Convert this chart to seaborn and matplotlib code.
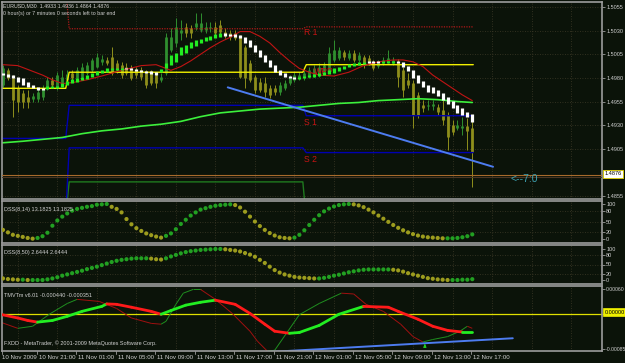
import numpy as np
import pandas as pd
import matplotlib
matplotlib.use("Agg")
import matplotlib.pyplot as plt
import matplotlib.transforms as mtrans
from matplotlib.collections import LineCollection
import seaborn as sns

# ---------------- data ----------------
open_ = [1.4972,1.4988,1.4980,1.4969,1.4964,1.4960,1.4958,1.4958,1.4960,1.4969,
         1.4978,1.4970,1.4975,1.4978,1.4985,1.4980,1.4981,1.4985,1.4988,1.4992,
         1.4997,1.4999,1.5002,1.4996,1.4994,1.4992,1.4990,1.4988,1.4988,1.4985,
         1.4985,1.4983,1.4978,1.4985,1.5010,1.5017,1.5027,1.5034,1.5033,1.5034,
         1.5031,1.5031,1.5033,1.5034,1.5036,1.5029,1.5027,1.5027,1.5023,1.5013,
         1.4996,1.4981,1.4976,1.4975,1.4969,1.4969,1.4965,1.4969,1.4975,1.4978,
         1.4980,1.4981,1.4981,1.4983,1.4983,1.4986,1.4986,1.4999,1.5001,1.5007,
         1.5001,1.5006,1.4999,1.5002,1.5001,1.4997,1.4993,1.4996,1.4997,1.4996,
         1.4997,1.4988,1.4978,1.4975,1.4962,1.4951,1.4950,1.4950,1.4949,1.4946,
         1.4941,1.4930,1.4927,1.4927,1.4929,1.4927]
high = [1.4994,1.4990,1.4983,1.4972,1.4967,1.4967,1.4964,1.4969,1.4972,1.4981,
        1.4981,1.4986,1.4988,1.4988,1.4988,1.4992,1.4996,1.4997,1.5001,1.5006,
        1.5004,1.5002,1.5013,1.4999,1.4997,1.4996,1.4994,1.4992,1.4992,1.4988,
        1.4988,1.4986,1.4985,1.5027,1.5033,1.5043,1.5041,1.5038,1.5036,1.5049,
        1.5049,1.5039,1.5039,1.5039,1.5041,1.5033,1.5031,1.5031,1.5025,1.5015,
        1.4999,1.4983,1.4980,1.4981,1.4972,1.4972,1.4976,1.4978,1.4983,1.4986,
        1.4986,1.4988,1.4992,1.4994,1.4996,1.4997,1.5013,1.5020,1.5013,1.5010,
        1.5010,1.5010,1.5007,1.5004,1.5004,1.4999,1.4999,1.5002,1.5010,1.5002,
        1.5000,1.4992,1.4985,1.4978,1.4965,1.4957,1.4957,1.4957,1.4952,1.4957,
        1.4944,1.4935,1.4935,1.4939,1.4938,1.4938]
low = [1.4970,1.4978,1.4939,1.4944,1.4948,1.4948,1.4955,1.4955,1.4957,1.4967,
       1.4969,1.4967,1.4972,1.4975,1.4976,1.4978,1.4980,1.4983,1.4986,1.4990,
       1.4994,1.4994,1.4983,1.4985,1.4980,1.4983,1.4978,1.4980,1.4978,1.4969,
       1.4972,1.4969,1.4976,1.4983,1.5007,1.5013,1.5020,1.5023,1.5022,1.5031,
       1.5029,1.5027,1.5029,1.5025,1.5025,1.5022,1.5020,1.5020,1.4980,1.4969,
       1.4976,1.4964,1.4965,1.4960,1.4959,1.4962,1.4962,1.4967,1.4972,1.4976,
       1.4978,1.4978,1.4980,1.4981,1.4981,1.4983,1.4985,1.4997,1.4999,1.4999,
       1.4999,1.4997,1.4997,1.4990,1.4994,1.4988,1.4990,1.4994,1.4996,1.4994,
       1.4970,1.4960,1.4969,1.4927,1.4938,1.4944,1.4946,1.4946,1.4941,1.4930,
       1.4904,1.4920,1.4925,1.4920,1.4904,1.4865]
close = [1.4990,1.4980,1.4957,1.4955,1.4955,1.4955,1.4961,1.4965,1.4969,1.4978,
         1.4972,1.4983,1.4981,1.4984,1.4980,1.4988,1.4992,1.4994,1.4999,1.5002,
         1.5000,1.4996,1.4985,1.4988,1.4983,1.4985,1.4980,1.4983,1.4981,1.4972,
         1.4975,1.4975,1.4981,1.5023,1.5023,1.5034,1.5031,1.5027,1.5027,1.5038,
         1.5038,1.5034,1.5034,1.5027,1.5029,1.5025,1.5023,1.5022,1.4981,1.4980,
         1.4978,1.4967,1.4967,1.4965,1.4962,1.4965,1.4972,1.4975,1.4981,1.4983,
         1.4983,1.4985,1.4988,1.4990,1.4992,1.4994,1.5006,1.5010,1.5010,1.5002,
         1.5006,1.4999,1.5004,1.4994,1.4996,1.4990,1.4996,1.4999,1.5001,1.4999,
         1.4981,1.4967,1.4972,1.4941,1.4941,1.4948,1.4951,1.4952,1.4944,1.4935,
         1.4917,1.4923,1.4930,1.4929,1.4924,1.4902]
ha_open = [1.4985,1.4984,1.4983,1.4981,1.4980,1.4976,1.4972,1.4970,1.4969,1.4968,
           1.4969,1.4969,1.4970,1.4972,1.4975,1.4976,1.4978,1.4979,1.4981,1.4983,
           1.4985,1.4986,1.4988,1.4988,1.4988,1.4990,1.4990,1.4989,1.4988,1.4987,
           1.4987,1.4986,1.4986,1.4990,1.4994,1.4997,1.5004,1.5006,1.5012,1.5014,
           1.5017,1.5019,1.5020,1.5022,1.5023,1.5027,1.5026,1.5026,1.5025,1.5023,
           1.5020,1.5015,1.5010,1.5004,1.4999,1.4994,1.4988,1.4985,1.4982,1.4981,
           1.4979,1.4980,1.4981,1.4981,1.4982,1.4983,1.4984,1.4985,1.4987,1.4989,
           1.4992,1.4993,1.4994,1.4995,1.4998,1.4998,1.4998,1.4996,1.4996,1.4996,
           1.4998,1.4997,1.4993,1.4988,1.4983,1.4977,1.4972,1.4970,1.4967,1.4964,
           1.4960,1.4956,1.4951,1.4948,1.4944,1.4942]
ha_close = [1.4983,1.4981,1.4980,1.4976,1.4972,1.4970,1.4969,1.4967,1.4967,1.4971,
            1.4971,1.4971,1.4975,1.4977,1.4979,1.4980,1.4981,1.4983,1.4985,1.4987,
            1.4988,1.4990,1.4990,1.4990,1.4990,1.4989,1.4988,1.4987,1.4986,1.4985,
            1.4984,1.4983,1.4989,1.4996,1.5004,1.5006,1.5013,1.5015,1.5018,1.5020,
            1.5021,1.5023,1.5024,1.5026,1.5027,1.5024,1.5024,1.5023,1.5022,1.5017,
            1.5013,1.5007,1.5002,1.4997,1.4992,1.4986,1.4983,1.4981,1.4980,1.4979,
            1.4981,1.4982,1.4983,1.4984,1.4985,1.4986,1.4988,1.4990,1.4992,1.4993,
            1.4995,1.4996,1.4997,1.4997,1.4996,1.4996,1.4996,1.4998,1.4998,1.4998,
            1.4996,1.4992,1.4987,1.4980,1.4975,1.4970,1.4965,1.4964,1.4961,1.4957,
            1.4952,1.4948,1.4943,1.4941,1.4939,1.4933]

# envelope (red) and long MA (lime), sampled at bar indices
red_bars = [0, 3, 5, 8, 10, 12, 14, 17, 20, 24, 28, 31, 34, 36, 38, 40, 42, 44, 46, 48, 50,
            52, 54, 56, 58, 60, 62, 64, 67, 70, 73, 76, 79, 81, 83, 85, 87, 89, 91, 93, 95]
red_vals = [1.4994, 1.4993, 1.4989, 1.4983, 1.4978, 1.4974, 1.4975, 1.4978, 1.4982, 1.4988,
            1.4993, 1.4994, 1.4988, 1.4992, 1.4998, 1.5005, 1.5012, 1.5018, 1.5023, 1.5029,
            1.5029, 1.5024, 1.5017, 1.5007, 1.4998, 1.4990, 1.4986, 1.4983, 1.4982, 1.4986,
            1.4993, 1.4997, 1.4999, 1.4999, 1.4997, 1.4992, 1.4983, 1.4976, 1.4969, 1.4962,
            1.4956]
ma_bars = [-1, 4, 8, 12, 16, 20, 24, 28, 32, 36, 40, 44, 48, 52, 56, 60, 64, 68, 72, 76,
           80, 84, 88, 92, 95]
ma_vals = [1.4911, 1.4913, 1.4915, 1.4917, 1.4921, 1.4924, 1.4926, 1.4929, 1.4931, 1.4934,
           1.4939, 1.4943, 1.4945, 1.4947, 1.4948, 1.4949, 1.4951, 1.4953, 1.4954, 1.4956,
           1.4957, 1.4958, 1.4957, 1.4955, 1.4954]

# daily pivot levels (step lines: before 11 Nov, 11 Nov, 12 Nov)
lvl_bars = [-1, 12.7, 13.4, 60.7, 61.4, 95.2]
pivot = [1.4969, 1.4969, 1.4986, 1.4986, 1.4994, 1.4994]
r1 = [1.5075, 1.5075, 1.5032, 1.5032, 1.5034, 1.5034]
s1 = [1.4916, 1.4916, 1.4951, 1.4951, 1.4940, 1.4940]
s2 = [1.4835, 1.4835, 1.4906, 1.4906, 1.4901, 1.4901]
s3 = [1.4835, 1.4835, 1.4870, 1.4870, 1.4830, 1.4830]

trend_bars = [45.5, 99.2]
trend_vals = [1.4970, 1.4886]
bid = 1.4876

price_ticks = [1.5055, 1.5030, 1.5005, 1.4980, 1.4955, 1.4930, 1.4905, 1.4855]

dss1 = [26, 19, 12, 9, 6, 3, 1, 3, 8, 18, 38, 53, 64, 73, 81, 86, 89, 92, 94, 98,
        99, 100, 92, 86, 76, 57, 42, 31, 23, 16, 11, 7, 4, 9, 16, 28, 43, 55, 67, 76,
        84, 88, 92, 95, 97, 98, 99, 97, 90, 78, 64, 50, 37, 26, 17, 10, 5, 3, 2, 4,
        12, 25, 40, 55, 68, 79, 87, 93, 97, 99, 100, 99, 96, 91, 84, 76, 67, 58, 49, 40,
        32, 25, 19, 14, 10, 7, 5, 4, 3, 2, 2, 2, 3, 5, 8, 13.18]
dss2 = [5, 3, 2, 1, 1, 0, 0, 0, 0, 2, 5, 9, 14, 18, 22, 26, 30, 35, 39, 43,
        48, 53, 58, 62, 65, 67, 69, 70, 70, 70, 69, 67, 66, 70, 76, 81, 86, 90, 93, 95,
        97, 98, 99, 100, 100, 99, 97, 95, 92, 87, 82, 75, 65, 55, 43, 32, 24, 18, 14, 10,
        8, 7, 6, 5, 5, 7, 10, 14, 17, 21, 25, 28, 31, 33, 34, 34, 34, 34, 34, 33,
        31, 27, 22, 18, 14, 10, 6, 4, 2, 1, 0, 0, 0, 1, 1, 2.64]

tmv_bars = [-1, 3, 5, 7, 10, 13, 16, 20, 21, 23, 26, 30, 32, 34, 37, 40, 43, 47, 50, 53,
            55, 58, 60, 64, 68, 73, 78, 80, 84, 87, 90, 93, 95]
tmv_vals = [0.00000, -0.00010, -0.00016, -0.00020, -0.00016, -0.00006, 0.00006, 0.00018,
            0.00024, 0.00023, 0.00016, 0.00006, -0.00001, 0.00008, 0.00021, 0.00028,
            0.00033, 0.00023, 0.00001, -0.00025, -0.00042, -0.00047, -0.00045, -0.00028,
            -0.00001, 0.00018, 0.00016, 0.00006, -0.00013, -0.00030, -0.00040, -0.00044,
            -0.00044]
sig_bars = [-1, 3, 6, 9.5, 13, 15, 19.5, 23, 26, 30, 32, 33, 35, 36.5, 38.5, 40, 43, 46.5,
            50, 51.5, 53.5, 55, 60, 64, 68.5, 71, 73.5, 77, 80.5, 83, 85, 87, 90, 92.5, 94, 95]
sig_vals = [-0.00018, -0.00035, -0.00030, 0.00000, 0.00025, 0.00035, 0.00030, 0.00013,
            -0.00010, -0.00023, -0.00025, -0.00018, 0.00023, 0.00050, 0.00059, 0.00059,
            0.00035, 0.00000, -0.00042, -0.00066, -0.00090, -0.00088, -0.00002, 0.00025,
            0.00050, 0.00048, 0.00023, 0.00006, -0.00025, -0.00055, -0.00068, -0.00062,
            -0.00055, -0.00042, -0.00030, -0.00035]
tmv_trend_bars = [54.3, 103.2]
tmv_trend_vals = [-0.00092, -0.00059]

time_bars = [0, 7, 15, 23, 31, 39, 47, 55, 63, 71, 79, 87, 95]
time_labels = ["10 Nov 2009", "10 Nov 21:00", "11 Nov 01:00", "11 Nov 05:00", "11 Nov 09:00",
               "11 Nov 13:00", "11 Nov 17:00", "11 Nov 21:00", "12 Nov 01:00", "12 Nov 05:00",
               "12 Nov 09:00", "12 Nov 13:00", "12 Nov 17:00"]
grid_bars = [3, 11, 19, 27, 35, 43, 51, 59, 67, 75, 83, 91, 99, 107, 115]

# ---------------- style ----------------
sns.set_theme(style="dark")
FONT = ['Liberation Sans Narrow', 'Liberation Sans', 'DejaVu Sans']
plt.rcParams['font.family'] = FONT
BG = '#0b1309'
FRAME = '#9c9c9c'
GRID = '#3e3a28'
TXT = '#d0d0d0'
W, H = 625, 363
XL = (-0.2, 121.26)
AXFS = 4.0

fig = plt.figure(figsize=(W / 100, H / 100), dpi=100)
fig.patch.set_facecolor(BG)


def add_ax(x0, y0, x1, y1):
    a = fig.add_axes([x0 / W, 1 - y1 / H, (x1 - x0) / W, (y1 - y0) / H])
    a.set_facecolor(BG)
    a.set_xlim(*XL)
    a.grid(False)
    for s in a.spines.values():
        s.set_color(FRAME)
        s.set_linewidth(1.2)
    a.set_xticks([])
    a.tick_params(axis='y', which='both', left=False, right=True, labelleft=False,
                  labelright=True, length=2, width=0.6, color=FRAME, pad=1.0,
                  labelsize=AXFS, labelcolor=TXT)
    a.yaxis.tick_right()
    for gb in grid_bars:
        a.axvline(gb, color=GRID, lw=0.6, ls=(0, (1, 2)), zorder=0)
    return a


# ---------------- main price panel ----------------
ax = add_ax(2, 2, 602, 199)
ax.set_ylim(1.48519, 1.50603)
for pt in price_ticks:
    ax.axhline(pt, color=GRID, lw=0.6, ls=(0, (1, 2)), zorder=0)
ax.set_yticks(price_ticks)
ax.set_yticklabels([f"{p:.4f}" for p in price_ticks])

bars = np.arange(len(close))
df = pd.DataFrame({"bar": bars, "open": open_, "high": high, "low": low, "close": close,
                   "ha_o": ha_open, "ha_c": ha_close})
bull = df.close >= df.open
ccol = np.where(bull, '#2f8f2f', '#8f8f1c')
ax.vlines(df.bar, df.low, df.high, colors=ccol, lw=0.7, zorder=2)
ax.vlines(df.bar, df[["open", "close"]].min(axis=1), df[["open", "close"]].max(axis=1),
          colors=ccol, lw=2.0, zorder=2)

# pivot levels
sns.lineplot(x=lvl_bars, y=s3, ax=ax, color='#1f7a1f', lw=1.0, sort=False, estimator=None)
sns.lineplot(x=lvl_bars, y=s2, ax=ax, color='#0000b0', lw=1.0, sort=False, estimator=None)
sns.lineplot(x=lvl_bars, y=s1, ax=ax, color='#0000b0', lw=1.0, sort=False, estimator=None)
sns.lineplot(x=lvl_bars, y=r1, ax=ax, color='#b01818', lw=0.9, sort=False, estimator=None,
             linestyle=(0, (1, 1)))
sns.lineplot(x=lvl_bars, y=pivot, ax=ax, color='#f2f000', lw=1.0, sort=False, estimator=None)
sns.lineplot(x=ma_bars, y=ma_vals, ax=ax, color='#3cf03c', lw=1.2, sort=False, estimator=None)
sns.lineplot(x=red_bars, y=red_vals, ax=ax, color='#c01414', lw=0.8, sort=False, estimator=None)

# heiken ashi blocks
hcol = np.where(df.ha_c >= df.ha_o, '#22ee22', '#ffffff')
lo_ha = df[["ha_o", "ha_c"]].min(axis=1)
hi_ha = np.maximum(df[["ha_o", "ha_c"]].max(axis=1), lo_ha + 0.00015)
ax.vlines(df.bar, lo_ha, hi_ha, colors=hcol, lw=2.3, zorder=4)

sns.lineplot(x=trend_bars, y=trend_vals, ax=ax, color='#4d7cf0', lw=1.4, sort=False,
             estimator=None)
ax.axhline(bid + 0.0001, color='#a86a2c', lw=0.8, zorder=3)
ax.axhline(bid - 0.0001, color='#4a3624', lw=0.8, zorder=3)

for txt, bx, py in [("R 1", 62.3, 1.5028), ("WPP", 65.0, 1.4987), ("S 1", 62.3, 1.4933),
                    ("S 2", 62.3, 1.4894)]:
    ax.text(bx, py, txt, color='#c81414', fontsize=6.2, ha='center', va='center', zorder=3.5)
ax.text(105.5, 1.4873, "<--7:0", color='#3ea2b2', fontsize=7.5, ha='center', va='center')
ax.set_xlabel(""); ax.set_ylabel("")

# bid label on axis
fig.text(604.5 / W, 1 - 174 / H, "1.4876", fontsize=AXFS, color='black', ha='left',
         va='center', bbox=dict(boxstyle='square,pad=0.2', fc='white', ec='#e0d000', lw=0.6))

fig.text(3 / W, 1 - 6 / H, "EURUSD,M30  1.4933 1.4936 1.4864 1.4876", fontsize=3.8,
         color=TXT, ha='left', va='center')
fig.text(3 / W, 1 - 13 / H, "0 hour(s) or 7 minutes 0 seconds left to bar end", fontsize=3.8,
         color=TXT, ha='left', va='center')


# ---------------- DSS panels ----------------
def dss_panel(y0, y1, vals, lim, title):
    a = add_ax(2, y0, 602, y1)
    a.set_ylim(*lim)
    for lv in (80, 50, 20):
        a.axhline(lv, color=GRID, lw=0.6, ls=(0, (1, 2)), zorder=0)
    v = np.array(vals, dtype=float)
    up = np.r_[False, np.diff(v) >= 0]
    d = pd.DataFrame({"bar": np.arange(len(v)), "v": v,
                      "dir": np.where(up, "up", "down")})
    sns.scatterplot(data=d, x="bar", y="v", hue="dir", palette={"up": '#22a022', "down": '#9c9c1e'},
                    s=9, linewidth=0, ax=a, legend=False, zorder=3)
    a.set_xlabel(""); a.set_ylabel("")
    a.set_yticks([100, 80, 50, 20, 0])
    a.set_yticklabels(["100", "80", "50", "20", "0"])
    a.text(0.003, 0.8, title, transform=a.transAxes, fontsize=4.0, color=TXT, ha='left',
           va='center')
    return a


dss_panel(201, 243, dss1, (-11.4, 108.6), "DSS(8,14) 13.1825 13.1825")
dss_panel(245, 284, dss2, (-12.9, 112.9), "DSS(8,50) 2.6444 2.6444")

# ---------------- TMV panel ----------------
at = add_ax(2, 286, 602, 351)
at.set_ylim(-0.000898, 0.000673)
at.axhline(0, color='#e0e000', lw=0.9, zorder=1)
sv = np.array(sig_vals)
sb = np.array(sig_bars)
segs = [[(sb[i], sv[i]), (sb[i + 1], sv[i + 1])] for i in range(len(sb) - 1)]
cols = ['#1f8f1f' if sv[i + 1] >= sv[i] else '#a01010' for i in range(len(sb) - 1)]
at.add_collection(LineCollection(segs, colors=cols, linewidths=0.7, zorder=2))
tv = np.array(tmv_vals)
tb = np.array(tmv_bars)
segs = [[(tb[i], tv[i]), (tb[i + 1], tv[i + 1])] for i in range(len(tb) - 1)]
cols = ['#22ee22' if tv[i + 1] >= tv[i] else '#ff1a1a' for i in range(len(tb) - 1)]
at.add_collection(LineCollection(segs, colors=cols, linewidths=2.0, zorder=3,
                                 capstyle='round'))
sns.lineplot(x=tmv_trend_bars, y=tmv_trend_vals, ax=at, color='#4d7cf0', lw=1.4, sort=False,
             estimator=None)
at.annotate("", xy=(85.4, -0.00066), xytext=(85.4, -0.00084),
            arrowprops=dict(arrowstyle='-|>', color='#22cc22', lw=0.8, mutation_scale=4))
at.set_xlabel(""); at.set_ylabel("")
at.set_yticks([0.000607, 0.0, -0.000853])
at.set_yticklabels(["0.00060", "", "-0.00085"])
for lab in at.get_yticklabels():
    lab.set_fontsize(3.7)
at.text(0.003, 0.86, "TMVTm v6.01 -0.000440 -0.000351", transform=at.transAxes, fontsize=4.0,
        color=TXT, ha='left', va='center')
at.text(0.003, 0.12, "FXDD - MetaTrader, © 2001-2009 MetaQuotes Software Corp.",
        transform=at.transAxes, fontsize=4.0, color=TXT, ha='left', va='center')
fig.text(604.5 / W, 1 - 312 / H, "0.00000", fontsize=AXFS, color='black', ha='left',
         va='center', bbox=dict(boxstyle='square,pad=0.2', fc='#f0f000', ec='#f0f000', lw=0.5))

trans = mtrans.blended_transform_factory(at.transData, at.transAxes)
for b, lab in zip(time_bars, time_labels):
    at.plot([b - 0.2, b - 0.2], [0, -0.05], transform=trans, color=FRAME, lw=0.6,
            clip_on=False)
    at.text(b + 0.2 if b else -0.1, -0.06, lab, transform=trans, fontsize=4.4, color=TXT,
            ha='left', va='top', clip_on=False)

fig.savefig("out.png", dpi=100, facecolor=BG)
